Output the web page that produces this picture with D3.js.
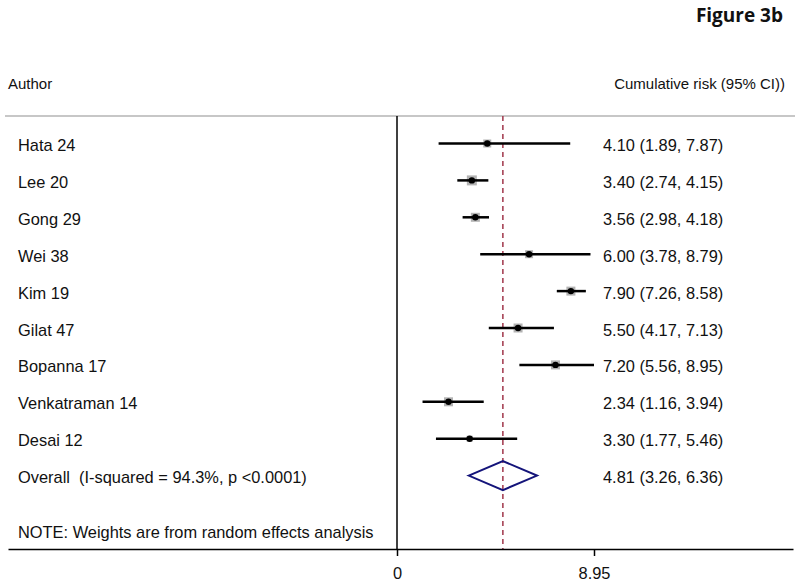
<!DOCTYPE html>
<html>
<head>
<meta charset="utf-8">
<script src="https://cdn.jsdelivr.net/npm/d3@7"></script>
<style>
  html, body { margin: 0; padding: 0; background: #fff; }
  svg { display: block; }
  text { font-family: "Liberation Sans", Arial, sans-serif; fill: #111; white-space: pre; }
</style>
</head>
<body>
<div id="chart"></div>
<script>
// ---- data ----
const authors = ["Hata 24", "Lee 20", "Gong 29", "Wei 38", "Kim 19", "Gilat 47", "Bopanna 17", "Venkatraman 14", "Desai 12"];
const estimates = [4.10, 3.40, 3.56, 6.00, 7.90, 5.50, 7.20, 2.34, 3.30];
const lower = [1.89, 2.74, 2.98, 3.78, 7.26, 4.17, 5.56, 1.16, 1.77];
const upper = [7.87, 4.15, 4.18, 8.79, 8.58, 7.13, 8.95, 3.94, 5.46];
const weights = [8, 10, 9, 8, 9, 9, 9, 9, 6];
const overallLabel = "Overall  (I-squared = 94.3%, p <0.0001)";
const overall = { est: 4.81, lo: 3.26, hi: 6.36 };
const tickValues = [0, 8.95];
const tickLabels = ["0", "8.95"];
const noteText = "NOTE: Weights are from random effects analysis";
const title = "Figure 3b";
const leftHeader = "Author";
const rightHeader = "Cumulative risk (95% CI))";

// ---- layout ----
const W = 800, H = 586;
const FS = "16.4px";
const svg = d3.select("#chart").append("svg").attr("width", W).attr("height", H);

const x = d3.scaleLinear().domain([0, 8.95]).range([397, 594]);
const rows = authors.concat([overallLabel]);
const y = d3.scalePoint().domain(rows).range([143.5, 475.6]);
const fmt = d3.format(".2f");
const ciText = (e, l, h) => `${fmt(e)} (${fmt(l)}, ${fmt(h)})`;

const plotTop = 116, plotBottom = 549;

// title
svg.append("text").attr("x", 783).attr("y", 22).attr("text-anchor", "end")
  .style("font-family", "'Open Sans', 'Noto Sans', sans-serif").style("font-weight", "bold")
  .style("font-size", "19px").text(title);

// headers
svg.append("text").attr("x", 8).attr("y", 89).style("font-size", "15px").text(leftHeader);
svg.append("text").attr("x", 785).attr("y", 89).attr("text-anchor", "end").style("font-size", "15px").text(rightHeader);

// top gray rule
svg.append("line").attr("x1", 5).attr("x2", 795).attr("y1", plotTop).attr("y2", plotTop)
  .attr("stroke", "#b5b5b5").attr("stroke-width", 1.5);

// null line (vertical at 0)
svg.append("line").attr("x1", x(0)).attr("x2", x(0)).attr("y1", plotTop).attr("y2", plotBottom)
  .attr("stroke", "#000").attr("stroke-width", 1.5);

// overall dashed line
svg.append("line").attr("x1", x(overall.est)).attr("x2", x(overall.est)).attr("y1", plotTop).attr("y2", plotBottom)
  .attr("stroke", "#a0364a").attr("stroke-width", 1.5).attr("stroke-dasharray", "5,4");

// study rows
const studies = authors.map((a, i) => ({ a, e: estimates[i], l: lower[i], h: upper[i], w: weights[i] }));
const g = svg.append("g");
const row = g.selectAll("g.row").data(studies).join("g").attr("class", "row");

row.append("rect")
  .attr("x", d => x(d.e) - d.w / 2).attr("y", d => y(d.a) - d.w / 2)
  .attr("width", d => d.w).attr("height", d => d.w)
  .attr("fill", "#b3b3b3");
row.append("line")
  .attr("x1", d => x(d.l)).attr("x2", d => x(d.h))
  .attr("y1", d => y(d.a)).attr("y2", d => y(d.a))
  .attr("stroke", "#000").attr("stroke-width", 2.5);
row.append("circle")
  .attr("cx", d => x(d.e)).attr("cy", d => y(d.a)).attr("r", 3.2)
  .attr("fill", "#000");
row.append("text").attr("x", 18).attr("y", d => y(d.a) + 7.5)
  .style("font-size", FS).text(d => d.a);
row.append("text").attr("x", 603).attr("y", d => y(d.a) + 7.5)
  .style("font-size", FS).text(d => ciText(d.e, d.l, d.h));

// overall diamond
const oy = y(overallLabel);
svg.append("path")
  .attr("d", `M${x(overall.lo)},${oy} L${x(overall.est)},${oy - 14.5} L${x(overall.hi)},${oy} L${x(overall.est)},${oy + 14.5} Z`)
  .attr("fill", "none").attr("stroke", "#14147a").attr("stroke-width", 2);
svg.append("text").attr("x", 18).attr("y", oy + 7).style("font-size", FS).text(overallLabel);
svg.append("text").attr("x", 603).attr("y", oy + 7).style("font-size", FS).text(ciText(overall.est, overall.lo, overall.hi));

// note
svg.append("text").attr("x", 18).attr("y", 538).style("font-size", FS).text(noteText);

// x axis
const xAxisScale = x.copy().domain([x.invert(8), x.invert(793)]).range([8, 793]);
const axis = d3.axisBottom(xAxisScale).tickValues(tickValues)
  .tickFormat((d, i) => tickLabels[i]).tickSizeOuter(0).tickSizeInner(7).tickPadding(11);
const ax = svg.append("g").attr("transform", `translate(0,${plotBottom})`).call(axis);
ax.select(".domain").attr("stroke", "#000").attr("stroke-width", 1.5);
ax.selectAll(".tick line").attr("stroke", "#000").attr("stroke-width", 1.5);
ax.selectAll(".tick text").style("font-size", FS).style("font-family", "'Liberation Sans', Arial, sans-serif").attr("fill", "#111");
</script>
</body>
</html>
